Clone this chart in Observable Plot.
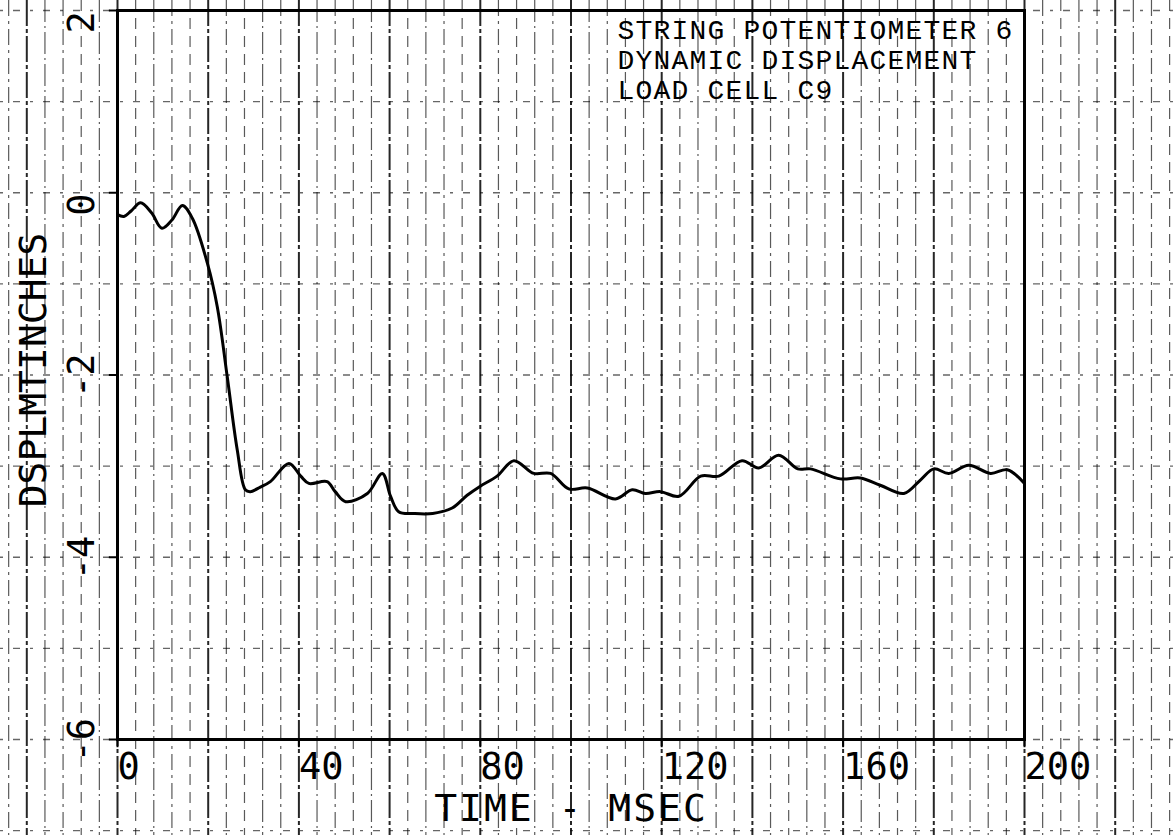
<!DOCTYPE html>
<html><head><meta charset="utf-8">
<script src="https://cdn.jsdelivr.net/npm/d3@7"></script>
<script src="https://cdn.jsdelivr.net/npm/@observablehq/plot@0.6"></script>
<style>
html,body{margin:0;padding:0;background:#fff;}
#chart{width:1175px;height:835px;overflow:hidden;}
</style></head><body><div id="chart"></div>
<script>
// ---- data ----
const timeMs = [0, 1.4, 3, 5.1, 7.5, 9.8, 12, 14.3, 16.5, 19.8, 22.0, 24.2, 26.4, 28.2, 29.3, 31.5, 33.7, 37.8, 40.4, 42.2, 46.2, 48, 50.3, 55.1, 58.4, 60.2, 62.0, 65.3, 69.5, 73.8, 77.1, 80.0, 83.7, 87.4, 91.8, 95.5, 99.5, 103.6, 109.8, 113.5, 116.4, 119.7, 123.8, 128.6, 132.6, 137.7, 141.4, 145.8, 150.0, 152.8, 159.4, 163.8, 168.2, 173.4, 177.1, 180.0, 183.3, 187.7, 192.5, 196.2, 200];
const displacement = [-0.24, -0.26, -0.2, -0.11, -0.22, -0.39, -0.3, -0.14, -0.28, -0.77, -1.25, -2.02, -2.82, -3.26, -3.28, -3.23, -3.17, -2.97, -3.11, -3.19, -3.17, -3.28, -3.39, -3.30, -3.08, -3.33, -3.50, -3.52, -3.52, -3.46, -3.32, -3.22, -3.11, -2.94, -3.08, -3.08, -3.25, -3.24, -3.36, -3.26, -3.30, -3.28, -3.33, -3.11, -3.11, -2.94, -3.02, -2.88, -3.03, -3.03, -3.14, -3.13, -3.21, -3.30, -3.15, -3.03, -3.08, -2.99, -3.08, -3.04, -3.19];
const xTicks = [0, 40, 80, 120, 160, 200];
const xTickLabels = ["0", "40", "80", "120", "160", "200"];
const yTicks = [2, 0, -2, -4, -6];
const yTickLabels = ["2", "0", "-2", "-4", "-6"];
const noteLines = ["STRING POTENTIOMETER 6", "DYNAMIC DISPLACEMENT", "LOAD CELL C9"];
const xLabel = "TIME - MSEC";
const yLabel = "DSPLMTINCHES";
// graph-paper grid (every 4 ms, every 1 inch), extending past the frame
const paperX = d3.range(-24, 236, 4);
const paperY = [2, 1, 0, -1, -2, -3, -4, -5, -6, -7];

const series = timeMs.map((t, i) => ({t, d: displacement[i]}));

const W = 1175, H = 835;
const mL = 117, mR = 151, mT = 10, mB = 96;
const yTop = 2 + mT / ((H - mT - mB) / 8);
const yBot = -6 - mB / ((H - mT - mB) / 8);
const xLeft = 0 - mL / ((W - mL - mR) / 200);
const xRight = 200 + mR / ((W - mL - mR) / 200);

const minorA = paperX.filter((d, i) => d % 20 !== 0 && i % 3 === 0);
const minorB = paperX.filter((d, i) => d % 20 !== 0 && i % 3 === 1);
const minorC = paperX.filter((d, i) => d % 20 !== 0 && i % 3 === 2);
const major = paperX.filter(d => d % 20 === 0);

const plotFont = "DejaVu Sans Mono, monospace";
const noteFont = "Courier New, Nimbus Mono PS, FreeMono, Liberation Mono, monospace";

const chart = Plot.plot({
  width: W, height: H,
  marginLeft: mL, marginRight: mR, marginTop: mT, marginBottom: mB,
  x: {domain: [0, 200], axis: null},
  y: {domain: [-6, 2], axis: null},
  style: {background: "#fff", color: "#000"},
  marks: [
    Plot.ruleX(minorA, {x: d => d, y1: yTop, y2: yBot, stroke: "#000", strokeOpacity: 0.65, strokeWidth: 1.2, strokeDasharray: "16,5,3,5"}),
    Plot.ruleX(minorB, {x: d => d, y1: yTop, y2: yBot, stroke: "#000", strokeOpacity: 0.65, strokeWidth: 1.2, strokeDasharray: "11,7"}),
    Plot.ruleX(minorC, {x: d => d, y1: yTop, y2: yBot, stroke: "#000", strokeOpacity: 0.65, strokeWidth: 1.2, strokeDasharray: "22,4,2,4"}),
    Plot.ruleX(major, {x: d => d, y1: yTop, y2: yBot, stroke: "#000", strokeOpacity: 0.85, strokeWidth: 2, strokeDasharray: "26,3,4,3"}),
    Plot.ruleY(paperY, {y: d => d, x1: xLeft, x2: xRight, stroke: "#000", strokeOpacity: 0.6, strokeWidth: 1.3, strokeDasharray: "3,10,7,10"}),
    Plot.frame({stroke: "#000", strokeWidth: 3}),
    Plot.ruleY(yTicks, {y: d => d, x1: -1.8, x2: 0, stroke: "#000", strokeWidth: 2}),
    Plot.ruleX(xTicks, {x: d => d, y1: -6, y2: -6.09, stroke: "#000", strokeWidth: 2}),
    Plot.line(series, {x: "t", y: "d", stroke: "#000", strokeWidth: 3, curve: "catmull-rom"}),
    Plot.text(yTicks, {y: d => d, text: (d, i) => yTickLabels[i], frameAnchor: "left", dx: -35, dy: 23,
      rotate: -90, textAnchor: "start", lineAnchor: "middle", fontSize: 37, fontFamily: plotFont, fill: "#000"}),
    Plot.text(xTicks, {x: d => d, text: (d, i) => xTickLabels[i], frameAnchor: "bottom", dx: 0, dy: 39,
      textAnchor: "start", lineAnchor: "bottom", fontSize: 37, fontFamily: plotFont, fill: "#000"}),
    Plot.text([xLabel], {text: d => d, frameAnchor: "bottom", dy: 81, lineAnchor: "bottom",
      fontSize: 38, fontFamily: plotFont, fill: "#000"}),
    Plot.text([yLabel], {text: d => d, frameAnchor: "left", dx: -84, dy: -5, rotate: -90,
      textAnchor: "middle", lineAnchor: "middle", fontSize: 38, fontFamily: plotFont, fill: "#000"}),
    Plot.text([noteLines.join("\n")], {text: d => d, frameAnchor: "top-left", dx: 500, dy: 7,
      textAnchor: "start", lineAnchor: "top", lineHeight: 1.07, fontSize: 28, fontFamily: noteFont, fill: "#000"})
  ]
});
// letter spacing for the plotter-style lettering
d3.select(chart).selectAll("text").each(function() {
  const t = this.textContent;
  if (t.includes(noteLines[0])) this.style.letterSpacing = "1.2px";
  else if (t === xLabel) this.style.letterSpacing = "2px";
});
document.getElementById("chart").appendChild(chart);
</script>
</body></html>
